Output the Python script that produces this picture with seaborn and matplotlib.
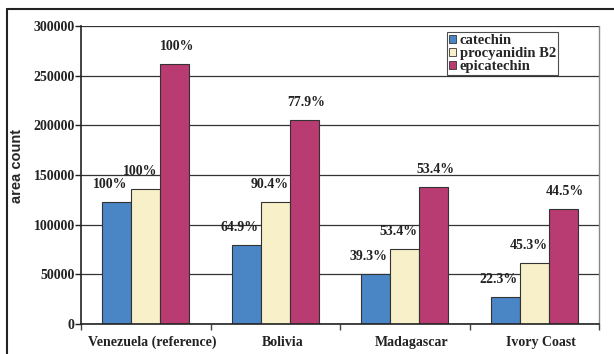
import pandas as pd
import matplotlib
matplotlib.use('Agg')
import matplotlib.pyplot as plt
import matplotlib.transforms as mtransforms
import seaborn as sns
from matplotlib.patches import Patch
from matplotlib.lines import Line2D

# data
origins = ['Venezuela (reference)', 'Bolivia', 'Madagascar', 'Ivory Coast']
compounds = ['catechin', 'procyanidin B2', 'epicatechin']
catechin = [122500, 79500, 50000, 26900]
procyanidin = [135600, 122500, 75200, 61700]
epicatechin = [261400, 205400, 138200, 115500]
pct_catechin = ['100%', '64.9%', '39.3%', '22.3%']
pct_procyanidin = ['100%', '90.4%', '53.4%', '45.3%']
pct_epicatechin = ['100%', '77.9%', '53.4%', '44.5%']
colors = ['#4a86c5', '#f8f0c8', '#b83b72']

df = pd.DataFrame({
    'origin': origins * 3,
    'compound': [c for c in compounds for _ in origins],
    'area': catechin + procyanidin + epicatechin,
})

sns.set_style('white')
plt.rcParams['font.family'] = ['Liberation Serif', 'DejaVu Serif']

fig = plt.figure(figsize=(6.14, 3.54), dpi=100)
ax = fig.add_axes([81 / 614, 30 / 354, 518 / 614, 298 / 354])

sns.barplot(data=df, x='origin', y='area', hue='compound', order=origins,
            hue_order=compounds, palette=colors, width=0.67, gap=0,
            edgecolor='#333333', linewidth=0.8, saturation=1, ax=ax, legend=False)

# percentage labels (the originals sit a little left of the two first bars)
shifts = [-7, -6, 2]
for cont, labs, dx in zip(ax.containers, [pct_catechin, pct_procyanidin, pct_epicatechin], shifts):
    for bar, lab in zip(cont, labs):
        ax.annotate(lab, (bar.get_x() + bar.get_width() / 2, bar.get_height()),
                    xytext=(dx, 11), textcoords='offset pixels', ha='center', va='bottom',
                    fontsize=10, fontweight='bold', color='#222222')

ax.set_ylim(0, 300000)
ax.set_xlim(-0.5, 3.5)
ax.set_yticks(range(0, 300001, 50000))
ax.yaxis.grid(True, color='#333333', lw=0.9)
ax.set_axisbelow(True)
ax.tick_params(axis='y', left=True, length=4, width=1, color='#222222', labelsize=10, pad=0.5)
ax.tick_params(axis='x', bottom=False, labelsize=10, pad=5)
ax.set_xticks(range(4))
ax.set_xticks([-0.5, 0.5, 1.5, 2.5, 3.5], minor=True)
ax.tick_params(axis='x', which='minor', bottom=True, length=4, width=1, color='#444444')
shift = mtransforms.ScaledTranslation(7 / 100, 0, fig.dpi_scale_trans)
for t in ax.get_xticklabels():
    t.set_transform(t.get_transform() + shift)
for t in ax.get_xticklabels() + ax.get_yticklabels():
    t.set_fontweight('bold')
    t.set_color('#222222')
ax.set_xlabel('')
ax.set_ylabel('area count', family=['Liberation Sans', 'DejaVu Sans'], fontweight='bold',
              fontsize=10.5)
ax.yaxis.set_label_coords(-57 / 518, 0.53)

for s in ['left', 'bottom']:
    ax.spines[s].set_color('#222222')
    ax.spines[s].set_linewidth(1.2)
ax.spines['top'].set_visible(False)
ax.spines['right'].set_color('#888888')
ax.spines['right'].set_linewidth(1)

handles = [Patch(facecolor=c, edgecolor='#333333', lw=0.6) for c in colors]
leg = ax.legend(handles, compounds, loc='upper left', bbox_to_anchor=(0.706, 0.98),
                frameon=True, fancybox=False, handlelength=0.5, handleheight=0.5,
                handletextpad=0.25, borderpad=0.15, labelspacing=0.0, borderaxespad=0,
                prop={'weight': 'bold', 'size': 10.5})
leg.get_frame().set_edgecolor('#222222')
leg.get_frame().set_linewidth(0.8)

# outer frame of the figure
fig.add_artist(Line2D([7 / 614, 7 / 614], [0, 1 - 9 / 354], transform=fig.transFigure,
                      color='#222222', lw=1.5))
fig.add_artist(Line2D([7 / 614, 1], [1 - 9 / 354, 1 - 9 / 354], transform=fig.transFigure,
                      color='#222222', lw=1.5))

fig.savefig('out.png', dpi=100)
